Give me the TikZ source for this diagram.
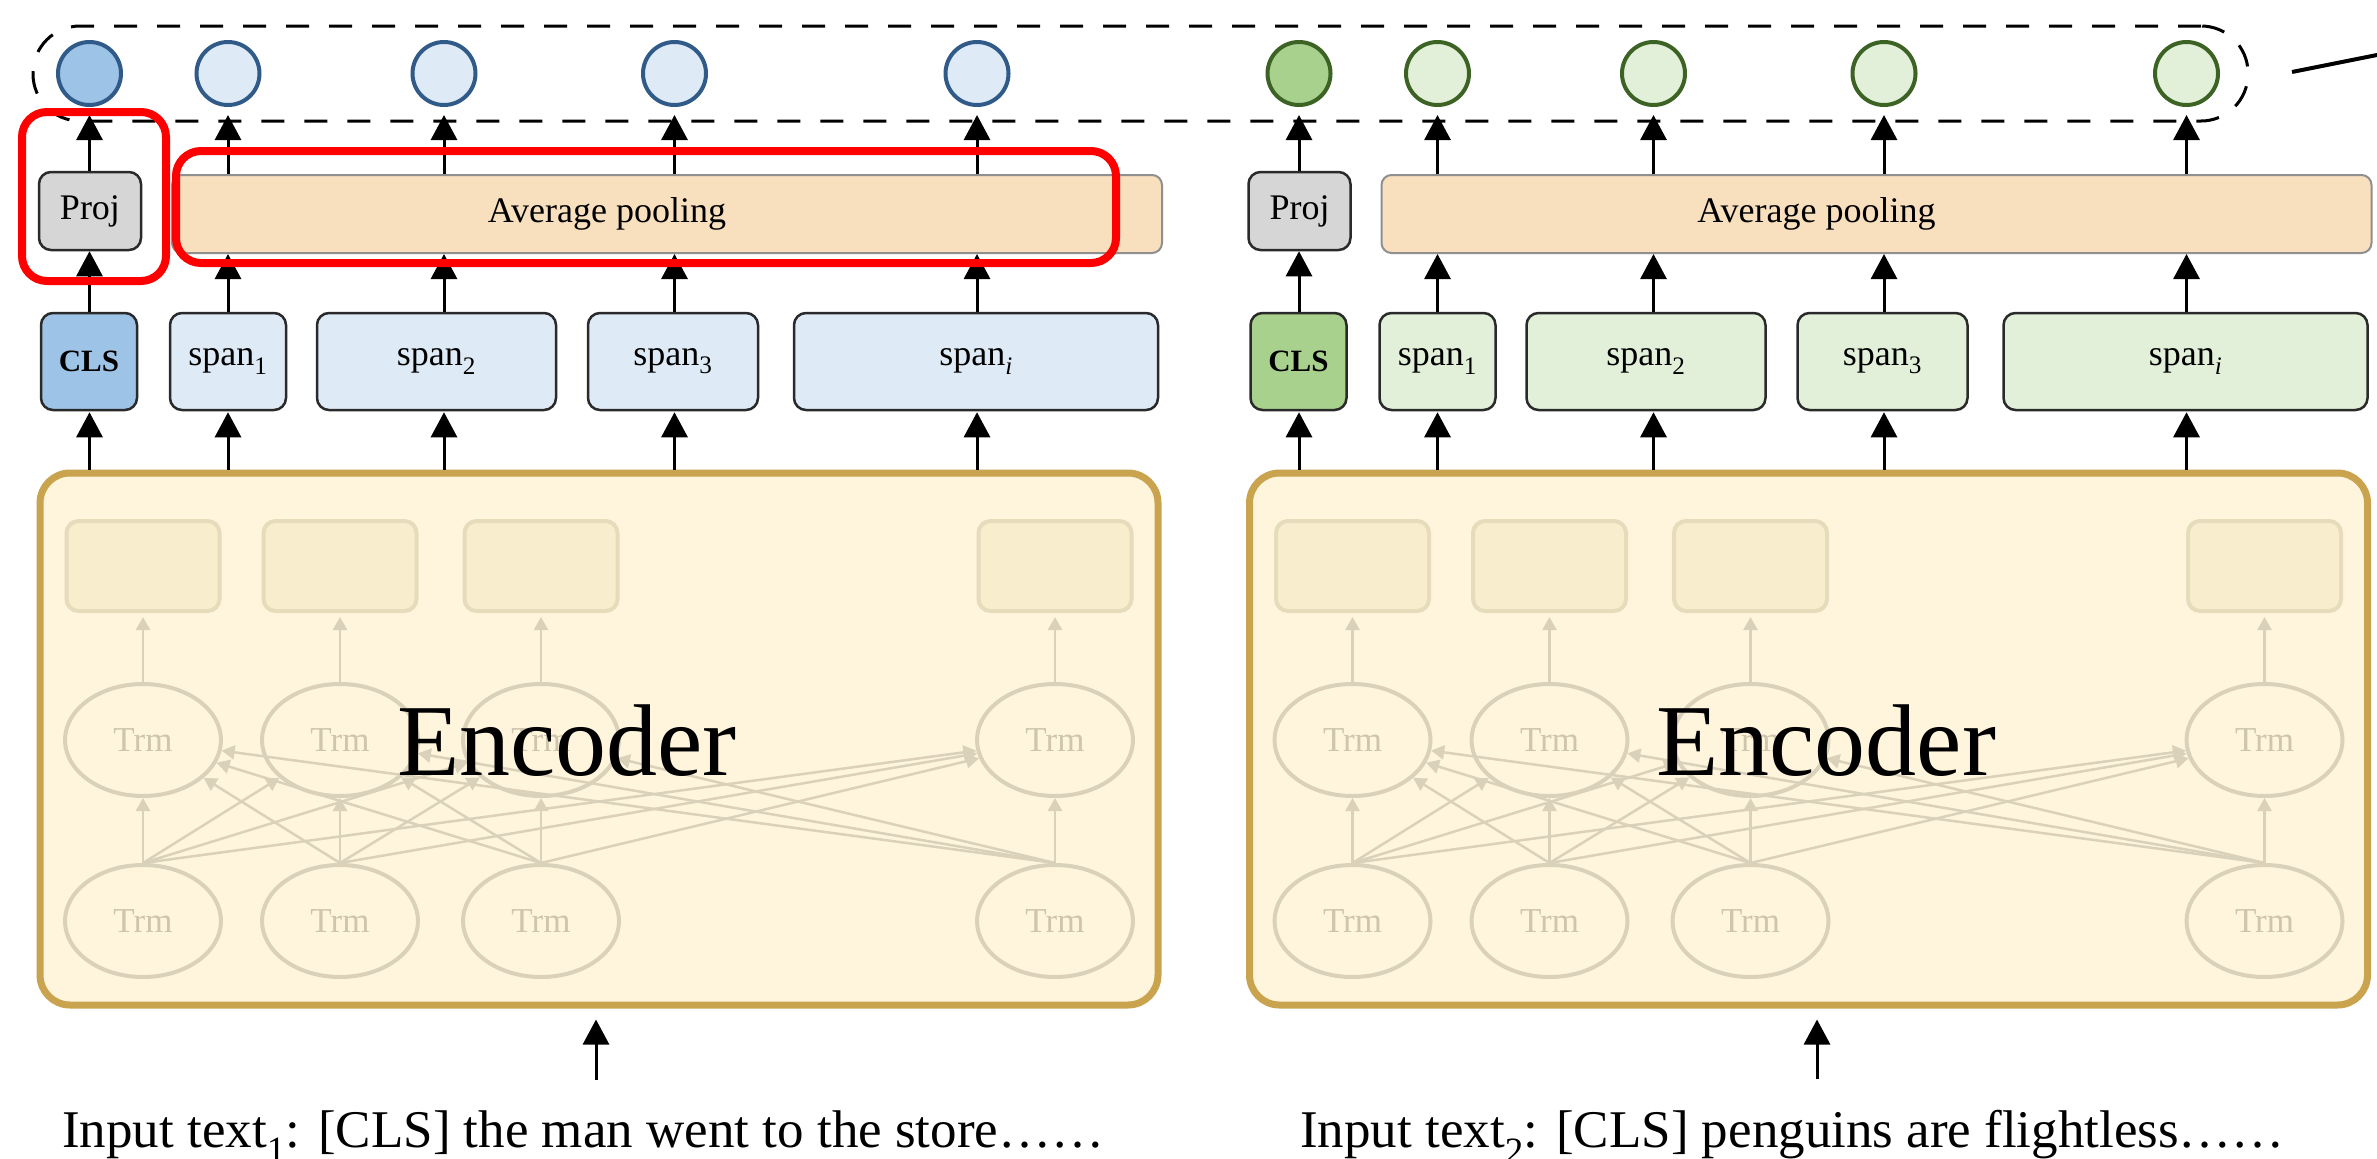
\documentclass[tikz,border=0pt]{standalone}
\usepackage{fontspec}
\setmainfont{Liberation Serif}
\usetikzlibrary{arrows.meta,shapes.geometric,calc}

\definecolor{cdarkblue}{HTML}{305A88}
\definecolor{cblue}{HTML}{9DC3E6}
\definecolor{clightblue}{HTML}{DEEBF7}
\definecolor{cdarkgreen}{HTML}{3C6324}
\definecolor{cgreen}{HTML}{A9D18E}
\definecolor{clightgreen}{HTML}{E2F0D9}
\definecolor{cproj}{HTML}{D6D6D6}
\definecolor{cpool}{HTML}{F8DFBD}
\definecolor{cpoolline}{HTML}{8F8F8F}
\definecolor{cencfill}{HTML}{FFF5DC}
\definecolor{cencline}{HTML}{C9A34E}
\definecolor{cinnerfill}{HTML}{F8EDCD}
\definecolor{cinnerline}{HTML}{E6DBBB}
\definecolor{ctrm}{HTML}{DAD1BB}
\definecolor{ctrmtext}{HTML}{CEC5AE}
\definecolor{cboxline}{HTML}{2A2A2A}

\tikzset{
  arr/.style={line width=3pt, -{Triangle[width=26pt,length=25pt]}},
  thinarr/.style={draw=ctrm, line width=2.5pt, -{Triangle[width=14pt,length=13pt]}},
  labelbox/.style={draw=cboxline, line width=2.5pt, rounded corners=12pt, inner sep=0pt,
    font=\fontsize{36}{40}\selectfont},
  outcircle/.style={circle, line width=4pt, minimum size=63pt, inner sep=0pt},
  trm/.style={ellipse, draw=ctrm, line width=4pt, minimum width=156pt, minimum height=112pt,
    inner sep=0pt, text=ctrmtext, font=\fontsize{35}{40}\selectfont},
  tokbox/.style={draw=cinnerline, fill=cinnerfill, line width=4pt, rounded corners=12pt,
    minimum width=153pt, minimum height=90pt},
  redframe/.style={draw=red, line width=8pt, rounded corners=25pt, inner sep=0pt},
}

% One encoder branch with its span pooling head.
% #1 name prefix, #2 x offset, #3 circle outline, #4 CLS fill, #5 span fill,
% #6 x of the Encoder label, #7 left x of the input text, #8 x of the input arrow, #9 input text
\newcommand\encoderhalf[9]{%
\begin{scope}[xshift=#2pt]
  % output vectors
  \node[outcircle, draw=#3, fill=#4] (#1o0) at (89.5,73.5) {};
  \foreach \n/\x in {1/228,2/444,3/674.5,4/977}
    \node[outcircle, draw=#3, fill=#5] (#1o\n) at (\x,73.5) {};
  % projection head and pooling layer
  \node[labelbox, fill=cproj, minimum width=102pt, minimum height=78pt] (#1proj) at (90,211) {Proj};
  \node[labelbox, draw=cpoolline, line width=2pt, rounded corners=10pt, fill=cpool,
        minimum width=990pt, minimum height=78pt] (#1pool) at (667,214) {};
  \node[font=\fontsize{36}{40}\selectfont] (#1poollabel) at (607,214) {Average pooling};
  % CLS and span representations
  \node[labelbox, fill=#4, minimum width=96pt, minimum height=97pt,
        font=\fontsize{31}{36}\selectfont\bfseries] (#1s0) at (89,361.5) {CLS};
  \node[labelbox, fill=#5, minimum width=116pt, minimum height=97pt] (#1s1) at (228,361.5) {span\textsubscript{1}};
  \node[labelbox, fill=#5, minimum width=239pt, minimum height=97pt] (#1s2) at (436.5,361.5) {span\textsubscript{2}};
  \node[labelbox, fill=#5, minimum width=170pt, minimum height=97pt] (#1s3) at (673,361.5) {span\textsubscript{3}};
  \node[labelbox, fill=#5, minimum width=364pt, minimum height=97pt] (#1s4) at (976,361.5) {span\textsubscript{\textit{i}}};
  % encoder block
  \node[draw=cencline, fill=cencfill, line width=7pt, rounded corners=30pt,
        minimum width=1118pt, minimum height=532pt] (#1enc) at (599,739) {};
  \foreach \n/\x in {1/143,2/340,3/541,4/1055}{
    \node[tokbox] (#1t\n) at (\x,566) {};
    \node[trm] (#1m\n) at (\x,740) {Trm};
    \node[trm] (#1b\n) at (\x,921) {Trm};
    \draw[thinarr, shorten >=4pt] (#1m\n) -- (#1t\n);
  }
  \foreach \i in {1,...,4}{
    \foreach \j in {1,...,4}{
      \ifnum\i=\j
        \draw[thinarr] (#1b\i.north) -- (#1m\j.south);
      \else
        \draw[thinarr] (#1b\i.north) -- (#1m\j);
      \fi
    }
  }
  \node[font=\fontsize{102}{110}\selectfont, anchor=base, inner sep=0pt] (#1enclabel) at (#6,775) {Encoder};
  % connections
  \draw[arr] (#1s0.north -| #1o0) -- (#1proj.south -| #1o0);
  \draw[arr, shorten >=8pt] (#1proj.north -| #1o0) -- (#1o0);
  \foreach \n in {1,...,4}{
    \draw[arr] (#1s\n.north -| #1o\n) -- (#1pool.south -| #1o\n);
    \draw[arr, shorten >=8pt] (#1pool.north -| #1o\n) -- (#1o\n);
  }
  \foreach \n in {0,...,4}
    \draw[arr, shorten >=1pt] (#1enc.north -| #1o\n) -- (#1s\n.south -| #1o\n);
  % input sentence
  \node[font=\fontsize{53}{60}\selectfont, anchor=base west, inner sep=0pt] (#1input) at (#7,1147) {#9};
  \coordinate (#1inarrow) at (#8,1050);
  \draw[arr, shorten <=30pt, shorten >=11pt] (#1input.north -| #1inarrow) -- (#1enc.south -| #1inarrow);
\end{scope}}

\begin{document}
\begin{tikzpicture}[x=1pt, y=-1pt]
  \fill[white] (0,0) rectangle (2377,1159);
  \path[use as bounding box] (0,0) rectangle (2377,1159);

  % dashed group around the output vectors
  \node[draw, line width=3pt, dash pattern=on 23pt off 20pt, rounded corners=47pt,
        minimum width=2215pt, minimum height=95pt, inner sep=0pt] (outframe) at (1140.5,73.5) {};
  \coordinate (linestart) at (2292,72);
  \coordinate (lineend) at (2392,52);
  \draw[line width=4pt] (linestart) -- (lineend);

  \encoderhalf{L}{0}{cdarkblue}{cblue}{clightblue}{567}{62}{596}%
    {Input text\textsubscript{1}: [CLS] the man went to the store……}
  \encoderhalf{R}{1209.5}{cdarkgreen}{cgreen}{clightgreen}{616.5}{90.5}{607.5}%
    {Input text\textsubscript{2}: [CLS] penguins are flightless……}

  % highlighted parts
  \node[redframe, minimum width=144pt, minimum height=169pt] (hlproj) at (94,196.5) {};
  \node[redframe, minimum width=940pt, minimum height=112pt] (hlpool) at (646,207) {};
\end{tikzpicture}
\end{document}
